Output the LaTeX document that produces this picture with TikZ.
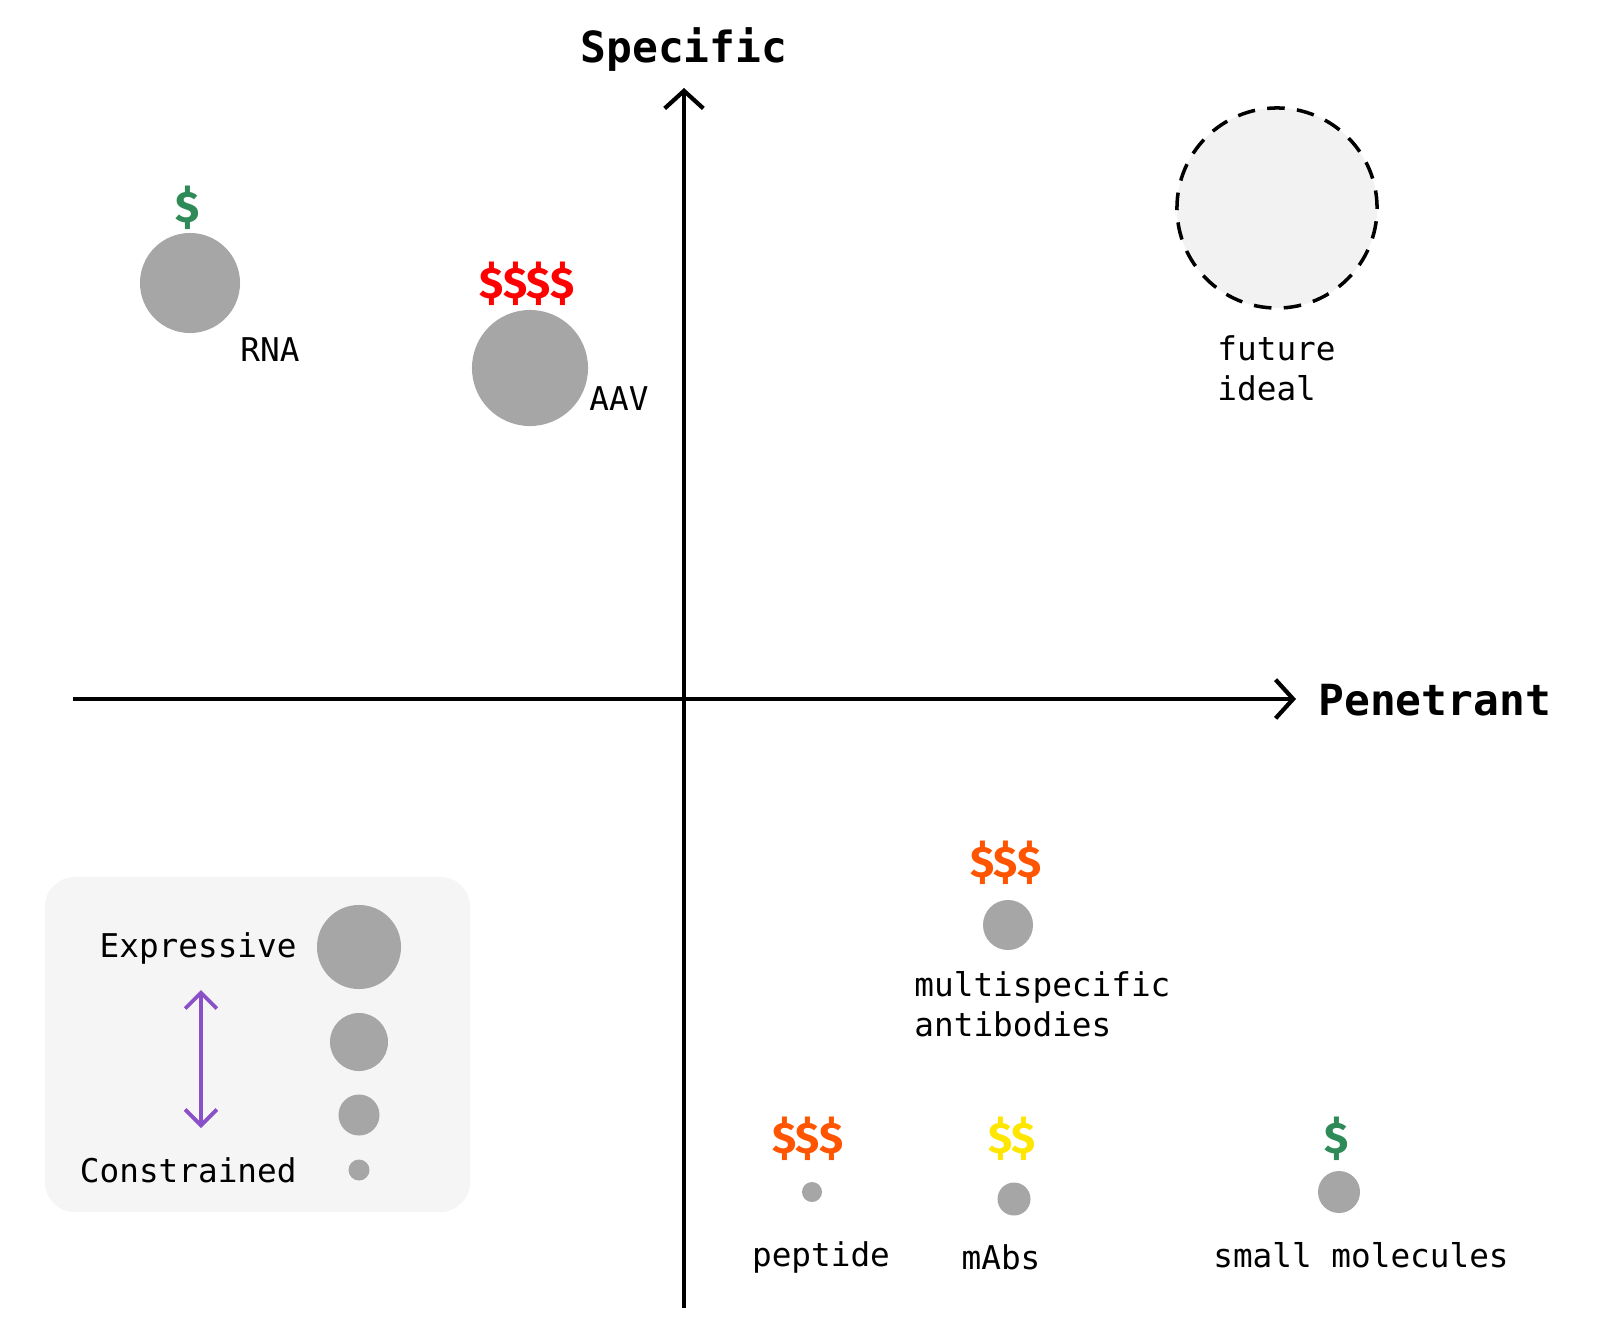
\documentclass[tikz,border=0pt]{standalone}
\usepackage{fontspec}
\setmonofont{DejaVu Sans Mono}
\newfontfamily\costfont{Fira Sans}
\usepackage{xcolor}
\usetikzlibrary{positioning,arrows.meta,backgrounds}

\definecolor{dotgray}{HTML}{A6A6A6}
\definecolor{costgreen}{HTML}{2E8B57}
\definecolor{costred}{HTML}{FF0000}
\definecolor{costorange}{HTML}{FF5500}
\definecolor{costyellow}{HTML}{FFE600}
\definecolor{legendpurple}{HTML}{8A50C8}

\begin{document}
\begin{tikzpicture}[
x=0.01cm, y=0.01cm,
font=\ttfamily\fontsize{9.3}{11.4}\selectfont,
dot/.style={circle, fill=dotgray, inner sep=0pt},
cost/.style={font=\costfont\bfseries\fontsize{12.5}{14}\selectfont},
axis/.style={line width=1.2pt, -{Straight Barb[length=5pt, width=11pt, line width=1.2pt]}},
axislabel/.style={font=\ttfamily\bfseries\fontsize{12.2}{14}\selectfont},
ideal/.style={circle, draw, fill=gray!10, line width=1pt, dash pattern=on 5pt off 3.5pt, inner sep=0pt, minimum size=2cm},
legendbox/.style={rectangle, fill=gray!8, rounded corners=0.3cm, minimum width=4.25cm, minimum height=3.35cm},
scalearrow/.style={line width=1.1pt, legendpurple, {Straight Barb[length=4.5pt, width=9pt, line width=1.1pt]}-{Straight Barb[length=4.5pt, width=9pt, line width=1.1pt]}}
]
\useasboundingbox (0,0) rectangle (1600,1332);

% --- AXES ---
\coordinate (origin) at (684,633);
\coordinate (ybot) at (684,24);
\coordinate (ytop) at (684,1244);
\coordinate (xleft) at (73,633);
\coordinate (xright) at (1296,633);
\draw[axis] (ybot) -- (ytop);
\draw[axis] (xleft) -- (xright);
\node[axislabel] (specific) at (684,1282) {Specific};
\node[axislabel, anchor=west] (penetrant) at (1306,632) {Penetrant};

% --- UPPER QUADRANTS ---
\node[ideal] (future) at (1277,1124) {};
\node[anchor=west, align=left] (futurelbl) at (1205,964) {future\\ideal};

\node[dot, minimum size=1cm] (rna) at (190,1049) {};
\node[cost, text=costgreen] (rnacost) at (188,1124) {\$};
\node (rnalbl) at (270,982) {RNA};

\node[dot, minimum size=1.16cm] (aav) at (530,964) {};
\node[cost, text=costred] (aavcost) at (527,1048) {\$\$\$\$};
\node (aavlbl) at (619,933) {AAV};

% --- LOWER RIGHT ---
\node[dot, minimum size=0.5cm] (multi) at (1008,407) {};
\node[cost, text=costorange] (multicost) at (1006,469) {\$\$\$};
\node[anchor=west, align=left] (multilbl) at (902,328) {multispecific\\antibodies};

\node[dot, minimum size=0.2cm] (peptide) at (812,140) {};
\node[cost, text=costorange] (peptidecost) at (808,193) {\$\$\$};
\node (peptidelbl) at (821,75) {peptide};

\node[dot, minimum size=0.33cm] (mabs) at (1014,133) {};
\node[cost, text=costyellow] (mabscost) at (1012,193) {\$\$};
\node (mabslbl) at (1001,75) {mAbs};

\node[dot, minimum size=0.42cm] (smallmol) at (1339,140) {};
\node[cost, text=costgreen] (smallmolcost) at (1337,193) {\$};
\node (smallmollbl) at (1361,77) {small molecules};

% --- LEGEND ---
\node[dot, minimum size=0.84cm] (size4) at (359,385) {};
\node[dot, minimum size=0.58cm] (size3) at (359,290) {};
\node[dot, minimum size=0.41cm] (size2) at (359,217) {};
\node[dot, minimum size=0.21cm] (size1) at (359,162) {};
\node[anchor=east] (expressive) at (309,384) {Expressive};
\node[anchor=east] (constrained) at (309,162) {Constrained};
\coordinate (scalehi) at (201,342);
\coordinate (scalelo) at (201,204);
\draw[scalearrow] (scalelo) -- (scalehi);

\begin{scope}[on background layer]
\node[legendbox] (legend) at (257.5,287.5) {};
\end{scope}

\end{tikzpicture}
\end{document}
